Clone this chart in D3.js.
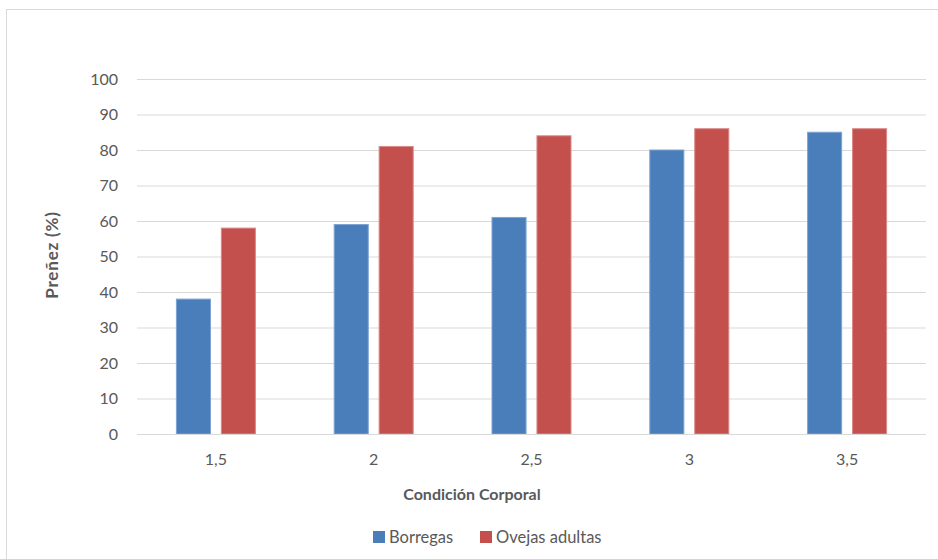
<!DOCTYPE html>
<html><head><meta charset="utf-8">
<script src="https://cdn.jsdelivr.net/npm/d3@7/dist/d3.min.js"></script>
<style>body{margin:0;background:#fff}svg{display:block;font-family:Lato,"Open Sans",sans-serif}</style>
</head><body>
<svg id="c" width="938" height="559"></svg>
<script>
const categories = ["1,5","2","2,5","3","3,5"];
const borregas = [38,59,61,80,85];
const ovejas = [58,81,84,86,86];
const seriesNames = ["Borregas","Ovejas adultas"];
const yTicks = [0,10,20,30,40,50,60,70,80,90,100];

const colors = ["#4A7EBB","#C4504D"];
const strokes = ["#7DA3D3","#D98A88"];
const svg = d3.select("#c");
svg.append("rect").attr("x",6.5).attr("y",9.5).attr("width",1000).attr("height",1000)
  .attr("fill","#fff").attr("stroke","#D9D9D9");

const L=137,R=926,T=79,B=434;
const x = d3.scaleBand().domain(categories).range([L,R]).paddingInner(0).paddingOuter(0);
const y = d3.scaleLinear().domain([0,100]).range([B,T]);
const x1 = d3.scaleBand().domain([0,1]).range([0,80]).paddingInner(0.22);

const grid = svg.append("g").attr("transform",`translate(${L},0)`)
  .call(d3.axisLeft(y).tickValues(yTicks).tickSize(-(R-L)).tickFormat(""));
grid.select(".domain").remove();
grid.selectAll("line").attr("stroke","#D9D9D9").attr("stroke-width",1);

const ya = svg.append("g").attr("transform",`translate(${L-19},0)`)
  .call(d3.axisLeft(y).tickValues(yTicks).tickSize(0).tickPadding(0));
ya.select(".domain").remove();
ya.selectAll("text").attr("font-size",16).attr("fill","#595959").attr("font-family","Lato,sans-serif");

const data = categories.map((c,i)=>({c,vals:[borregas[i],ovejas[i]]}));
const grp = svg.append("g").selectAll("g").data(data).join("g")
  .attr("transform",d=>`translate(${x(d.c)+x.bandwidth()/2-40},0)`);
grp.selectAll("rect").data(d=>d.vals.map((v,k)=>({v,k}))).join("rect")
  .attr("x",d=>x1(d.k)+0.5).attr("width",x1.bandwidth()-1)
  .attr("y",d=>y(d.v)).attr("height",d=>B-y(d.v))
  .attr("fill",d=>colors[d.k]).attr("stroke",d=>strokes[d.k]).attr("stroke-width",1);

svg.append("line").attr("x1",L).attr("x2",R).attr("y1",B+0.5).attr("y2",B+0.5).attr("stroke","#D9D9D9");

const xa = svg.append("g").attr("transform",`translate(0,${B})`)
  .call(d3.axisBottom(x).tickSize(0).tickPadding(20));
xa.select(".domain").remove();
xa.selectAll("text").attr("font-size",16).attr("fill","#595959").attr("font-family","Lato,sans-serif");

svg.append("text").attr("x",472).attr("y",500).attr("text-anchor","middle")
  .attr("font-size",16).attr("font-weight","bold").attr("fill","#595959").text("Condición Corporal");
svg.append("text").attr("transform","translate(58,255) rotate(-90)").attr("text-anchor","middle")
  .attr("font-size",17).attr("letter-spacing","0.8").attr("font-weight","bold").attr("fill","#595959").text("Preñez (%)");

const legX=[373,480];
const lg = svg.append("g").selectAll("g").data(seriesNames).join("g")
  .attr("transform",(d,i)=>`translate(${legX[i]},531)`);
lg.append("rect").attr("width",12).attr("height",12).attr("fill",(d,i)=>colors[i]);
lg.append("text").attr("x",16).attr("y",12).attr("font-size",16.5).attr("fill","#595959").text(d=>d);
</script>
</body></html>
